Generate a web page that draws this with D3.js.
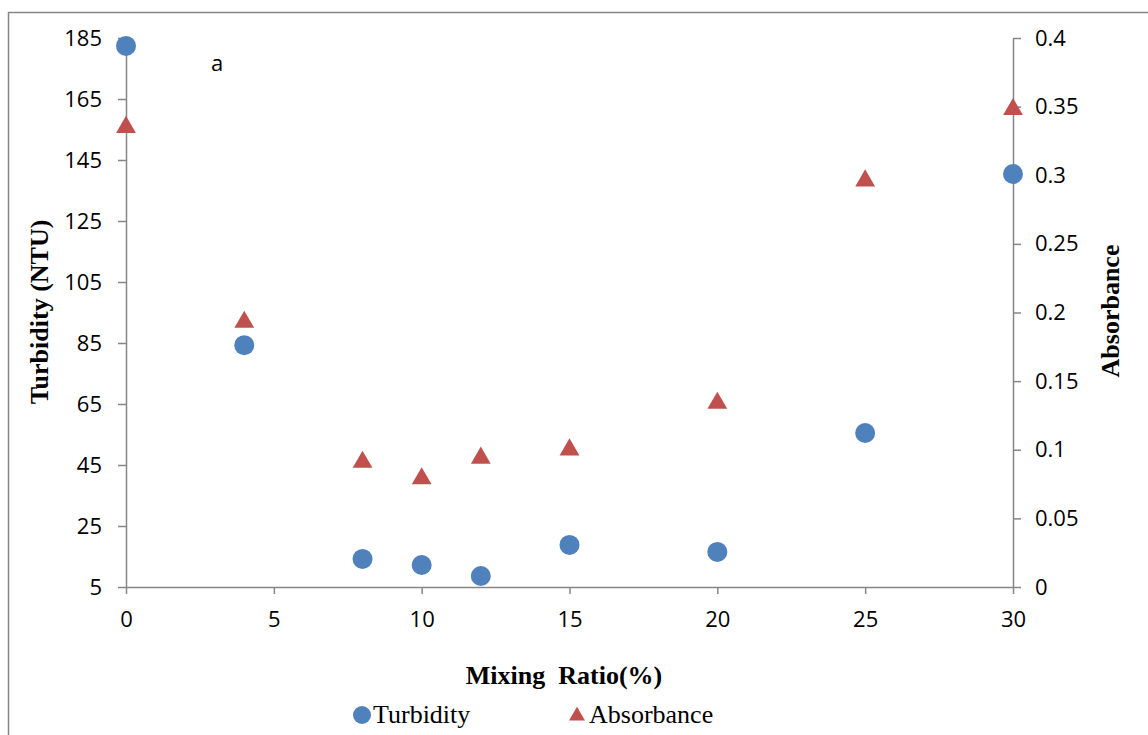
<!DOCTYPE html>
<html lang="en">
<head>
<meta charset="utf-8">
<title>turbidity</title>
<script src="https://cdn.jsdelivr.net/npm/d3@7"></script>
<style>
  body { margin: 0; background: #fff; }
  .tick text { font-family: "Open Sans", "Liberation Sans", sans-serif; font-size: 22px; fill: #000; }
  .axis path, .axis line { stroke: #868686; stroke-width: 1.5; }
  .title { font-family: "Liberation Serif", serif; font-weight: bold; font-size: 26px; }
  .legend { font-family: "Liberation Serif", serif; font-size: 26px; }
</style>
</head>
<body>
<script>
var w = 1148, h = 735;

var mixing = [0, 4, 8, 10, 12, 15, 20, 25, 30];
var turbidity = [182.4, 84.3, 14.2, 12.2, 8.6, 18.8, 16.5, 55.5, 140.4];
var absorbance = [0.335, 0.193, 0.091, 0.079, 0.094, 0.100, 0.134, 0.296, 0.348];
var xTicks = [0, 5, 10, 15, 20, 25, 30];
var yTicks = [5, 25, 45, 65, 85, 105, 125, 145, 165, 185];
var y2Ticks = [0, 0.05, 0.1, 0.15, 0.2, 0.25, 0.3, 0.35, 0.4];

var plotLeft = 126, plotRight = 1013, plotTop = 38, plotBottom = 587;

var svg = d3.select("body").append("svg")
  .attr("width", w).attr("height", h);

// chart frame (clipped by the picture edge)
svg.append("path")
  .attr("d", "M8.5," + h + "V12.5H" + w)
  .attr("fill", "none").attr("stroke", "#868686").attr("stroke-width", 1.5);

var x = d3.scaleLinear().domain([0, 30]).range([plotLeft, plotRight]);
var y = d3.scaleLinear().domain([5, 185]).range([plotBottom, plotTop]);
var y2 = d3.scaleLinear().domain([0, 0.4]).range([plotBottom, plotTop]);

svg.append("g").attr("class", "axis")
  .attr("transform", "translate(0," + plotBottom + ")")
  .call(d3.axisBottom(x).tickValues(xTicks).tickSize(7).tickSizeOuter(0).tickPadding(17));

svg.append("g").attr("class", "axis")
  .attr("transform", "translate(" + plotLeft + ",0)")
  .call(d3.axisLeft(y).tickValues(yTicks).tickSize(8).tickSizeOuter(0).tickPadding(16));

svg.append("g").attr("class", "axis")
  .attr("transform", "translate(" + plotRight + ",0)")
  .call(d3.axisRight(y2).tickValues(y2Ticks).tickSize(8).tickSizeOuter(0).tickPadding(14)
    .tickFormat(function(d) { return String(+d.toFixed(2)); }));

// absorbance triangles
var tri = d3.symbol().type(d3.symbolTriangle).size(170);
svg.selectAll(".abs")
  .data(mixing)
  .enter().append("path")
  .attr("class", "abs")
  .attr("d", tri)
  .attr("transform", function(d, i) { return "translate(" + x(d) + "," + y2(absorbance[i]) + ")"; })
  .attr("fill", "#C0504D");

// turbidity circles
svg.selectAll(".turb")
  .data(mixing)
  .enter().append("circle")
  .attr("class", "turb")
  .attr("cx", function(d) { return x(d); })
  .attr("cy", function(d, i) { return y(turbidity[i]); })
  .attr("r", 10)
  .attr("fill", "#4F81BD");

svg.append("text")
  .attr("x", 211).attr("y", 71)
  .style("font-family", "'Open Sans', sans-serif").style("font-size", "22px")
  .text("a");

svg.append("text").attr("class", "title")
  .attr("transform", "translate(48,312) rotate(-90)")
  .attr("text-anchor", "middle")
  .text("Turbidity (NTU)");

svg.append("text").attr("class", "title")
  .attr("transform", "translate(1119,311) rotate(-90)")
  .attr("text-anchor", "middle")
  .text("Absorbance");

svg.append("text").attr("class", "title")
  .attr("x", 564).attr("y", 684)
  .attr("text-anchor", "middle")
  .style("white-space", "pre")
  .text("Mixing  Ratio(%)");

// legend
svg.append("circle").attr("cx", 362).attr("cy", 715).attr("r", 9).attr("fill", "#4F81BD");
svg.append("text").attr("class", "legend").attr("x", 373).attr("y", 723).text("Turbidity");
svg.append("path").attr("d", d3.symbol().type(d3.symbolTriangle).size(110))
  .attr("transform", "translate(577,716)").attr("fill", "#C0504D");
svg.append("text").attr("class", "legend").attr("x", 589).attr("y", 723).text("Absorbance");
</script>
</body>
</html>
